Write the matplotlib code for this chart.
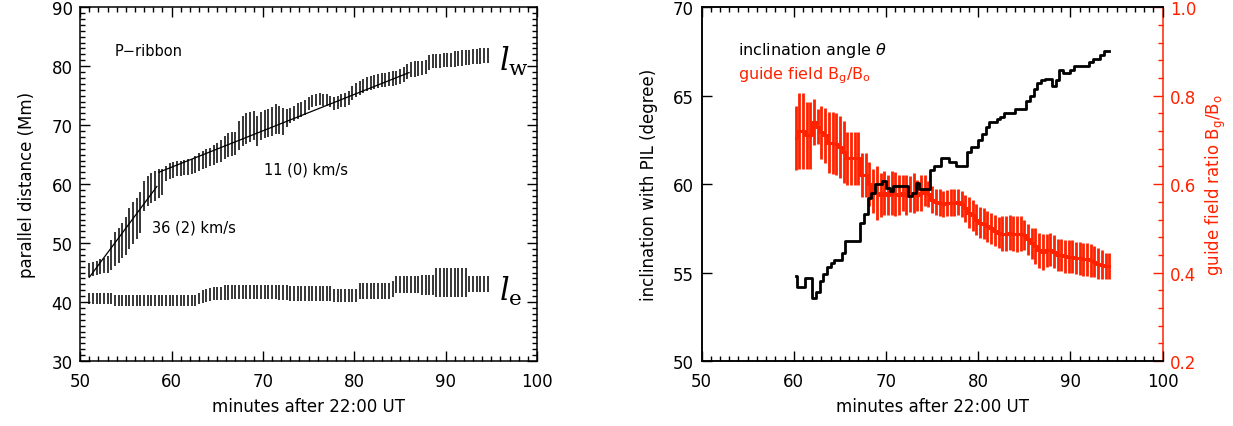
import numpy as np
import matplotlib
matplotlib.use("Agg")
from matplotlib import pyplot as plt
from matplotlib.ticker import MultipleLocator

# ---- left panel: parallel distance of the two ribbon ends (24 s cadence) ----
t_left = [51.0, 51.4, 51.8, 52.2, 52.6, 53.0, 53.4, 53.8, 54.2, 54.6,
          55.0, 55.4, 55.8, 56.2, 56.6, 57.0, 57.4, 57.8, 58.2, 58.6,
          59.0, 59.4, 59.8, 60.2, 60.6, 61.0, 61.4, 61.8, 62.2, 62.6,
          63.0, 63.4, 63.8, 64.2, 64.6, 65.0, 65.4, 65.8, 66.2, 66.6,
          67.0, 67.4, 67.8, 68.2, 68.6, 69.0, 69.4, 69.8, 70.2, 70.6,
          71.0, 71.4, 71.8, 72.2, 72.6, 73.0, 73.4, 73.8, 74.2, 74.6,
          75.0, 75.4, 75.8, 76.2, 76.6, 77.0, 77.4, 77.8, 78.2, 78.6,
          79.0, 79.4, 79.8, 80.2, 80.6, 81.0, 81.4, 81.8, 82.2, 82.6,
          83.0, 83.4, 83.8, 84.2, 84.6, 85.0, 85.4, 85.8, 86.2, 86.6,
          87.0, 87.4, 87.8, 88.2, 88.6, 89.0, 89.4, 89.8, 90.2, 90.6,
          91.0, 91.4, 91.8, 92.2, 92.6, 93.0, 93.4, 93.8, 94.2, 94.6]

lw_dist = [45.5, 45.6, 45.8, 46.0, 46.2, 46.4, 48.0, 49.0, 49.6, 50.4,
           51.2, 52.5, 53.4, 54.2, 55.2, 58.0, 58.8, 59.3, 59.7, 60.1,
           60.4, 61.8, 62.2, 62.4, 62.6, 62.7, 62.8, 62.9, 63.0, 63.3,
           63.8, 64.1, 64.4, 64.6, 65.0, 65.3, 65.6, 66.2, 66.6, 66.8,
           66.9, 68.2, 69.0, 69.4, 69.7, 69.9, 69.0, 69.8, 70.2, 70.4,
           70.6, 71.0, 70.9, 70.6, 71.2, 71.6, 72.0, 72.4, 72.7, 73.0,
           73.6, 74.1, 74.3, 74.4, 74.3, 74.2, 74.0, 73.7, 73.9, 74.2,
           74.3, 74.6, 75.5, 76.0, 76.3, 76.6, 76.9, 77.1, 77.3, 77.5,
           77.6, 77.7, 77.8, 77.9, 78.0, 78.2, 78.6, 79.1, 79.4, 79.5,
           79.6, 79.7, 79.9, 80.6, 80.8, 80.8, 80.9, 81.0, 81.0, 81.1,
           81.2, 81.3, 81.4, 81.5, 81.5, 81.6, 81.6, 81.7, 81.8, 81.8]

lw_err = [1.2, 1.2, 1.2, 1.3, 1.3, 1.4, 2.6, 2.9, 3.0, 3.0,
          3.2, 3.5, 3.5, 3.5, 3.5, 2.6, 2.5, 2.5, 2.5, 2.4,
          2.2, 1.3, 1.3, 1.3, 1.3, 1.3, 1.3, 1.3, 1.3, 1.4,
          1.5, 1.5, 1.6, 1.6, 1.7, 1.7, 1.8, 2.0, 2.0, 2.0,
          2.0, 2.5, 2.6, 2.6, 2.6, 2.5, 2.5, 2.4, 2.4, 2.4,
          2.4, 2.5, 2.4, 2.3, 1.5, 1.3, 1.3, 1.3, 1.3, 1.3,
          1.1, 1.0, 1.0, 1.0, 1.0, 1.0, 1.0, 1.1, 1.1, 1.1,
          1.2, 1.2, 1.2, 1.2, 1.2, 1.2, 1.2, 1.2, 1.2, 1.2,
          1.2, 1.2, 1.2, 1.2, 1.2, 1.3, 1.3, 1.3, 1.3, 1.3,
          1.2, 1.2, 1.2, 1.2, 1.2, 1.2, 1.2, 1.2, 1.2, 1.2,
          1.3, 1.3, 1.3, 1.3, 1.3, 1.3, 1.3, 1.3, 1.3, 1.3]

le_dist = [40.6, 40.6, 40.6, 40.6, 40.6, 40.6, 40.6, 40.3, 40.3, 40.3,
           40.3, 40.3, 40.3, 40.3, 40.3, 40.3, 40.3, 40.3, 40.3, 40.3,
           40.3, 40.3, 40.3, 40.3, 40.3, 40.3, 40.3, 40.3, 40.3, 40.3,
           40.6, 40.9, 41.1, 41.3, 41.4, 41.5, 41.5, 41.6, 41.6, 41.7,
           41.7, 41.7, 41.7, 41.7, 41.7, 41.7, 41.7, 41.7, 41.7, 41.7,
           41.7, 41.7, 41.6, 41.6, 41.6, 41.5, 41.5, 41.5, 41.5, 41.5,
           41.5, 41.5, 41.5, 41.5, 41.5, 41.5, 41.5, 41.2, 41.2, 41.2,
           41.2, 41.2, 41.2, 41.2, 41.9, 41.9, 41.9, 41.9, 41.9, 41.9,
           41.9, 41.9, 41.9, 42.2, 43.0, 43.0, 43.0, 43.0, 43.0, 43.0,
           43.0, 42.9, 42.9, 42.9, 42.9, 43.3, 43.3, 43.3, 43.3, 43.3,
           43.3, 43.3, 43.3, 43.3, 43.1, 43.1, 43.1, 43.1, 43.1, 43.1]

le_err = [0.9, 0.9, 0.9, 0.9, 0.9, 0.9, 0.9, 0.9, 0.9, 0.9,
          0.9, 0.9, 0.9, 0.9, 0.9, 0.9, 0.9, 0.9, 0.9, 0.9,
          0.9, 0.9, 0.9, 0.9, 0.9, 0.9, 0.9, 0.9, 0.9, 0.9,
          1.0, 1.1, 1.1, 1.1, 1.1, 1.1, 1.1, 1.25, 1.25, 1.25,
          1.25, 1.25, 1.25, 1.25, 1.25, 1.25, 1.25, 1.25, 1.25, 1.25,
          1.25, 1.25, 1.25, 1.25, 1.25, 1.25, 1.25, 1.25, 1.25, 1.25,
          1.25, 1.25, 1.25, 1.25, 1.25, 1.25, 1.25, 1.1, 1.1, 1.1,
          1.1, 1.1, 1.1, 1.1, 1.3, 1.3, 1.3, 1.3, 1.3, 1.3,
          1.3, 1.3, 1.3, 1.4, 1.5, 1.5, 1.5, 1.5, 1.5, 1.5,
          1.5, 1.65, 1.65, 1.65, 1.65, 2.4, 2.4, 2.4, 2.4, 2.4,
          2.4, 2.4, 2.4, 2.4, 1.4, 1.4, 1.4, 1.4, 1.4, 1.4]

# linear fits (end points)
fit_fast_t = [51.0, 58.4]
fit_fast_d = [44.2, 59.6]
fit_slow_t = [58.6, 86.0]
fit_slow_d = [62.0, 78.9]

# ---- right panel: inclination angle and guide field ----
t_right = [60.2, 60.6, 61.0, 61.4, 61.8, 62.2, 62.6, 63.0, 63.4, 63.8,
           64.2, 64.6, 65.0, 65.4, 65.8, 66.2, 66.6, 67.0, 67.4, 67.8,
           68.2, 68.6, 69.0, 69.4, 69.8, 70.2, 70.6, 71.0, 71.4, 71.8,
           72.2, 72.6, 73.0, 73.4, 73.8, 74.2, 74.6, 75.0, 75.4, 75.8,
           76.2, 76.6, 77.0, 77.4, 77.8, 78.2, 78.6, 79.0, 79.4, 79.8,
           80.2, 80.6, 81.0, 81.4, 81.8, 82.2, 82.6, 83.0, 83.4, 83.8,
           84.2, 84.6, 85.0, 85.4, 85.8, 86.2, 86.6, 87.0, 87.4, 87.8,
           88.2, 88.6, 89.0, 89.4, 89.8, 90.2, 90.6, 91.0, 91.4, 91.8,
           92.2, 92.6, 93.0, 93.4, 93.8, 94.2]

theta = [54.8, 54.2, 54.2, 54.7, 54.7, 53.55, 53.9, 54.5, 54.9, 55.3,
         55.55, 55.7, 55.7, 56.1, 56.8, 56.8, 56.8, 56.8, 57.8, 58.3,
         59.2, 59.5, 60.0, 60.0, 60.2, 59.8, 59.6, 59.9, 59.9, 59.9,
         59.9, 59.3, 59.5, 60.05, 59.7, 59.7, 59.7, 60.8, 61.0, 61.0,
         61.45, 61.45, 61.25, 61.25, 61.0, 61.0, 61.0, 61.8, 62.1, 62.1,
         62.5, 62.85, 63.2, 63.5, 63.5, 63.7, 63.8, 64.0, 64.0, 64.0,
         64.25, 64.25, 64.25, 64.7, 65.0, 65.4, 65.7, 65.9, 65.95, 65.95,
         65.55, 65.9, 66.45, 66.3, 66.3, 66.45, 66.7, 66.7, 66.7, 66.7,
         66.9, 67.05, 67.05, 67.3, 67.5, 67.5]

guide = [0.705, 0.72, 0.72, 0.71, 0.71, 0.74, 0.73, 0.717, 0.71, 0.694,
         0.692, 0.69, 0.684, 0.673, 0.658, 0.658, 0.658, 0.658, 0.62, 0.62,
         0.60, 0.585, 0.58, 0.575, 0.58, 0.575, 0.58, 0.577, 0.575, 0.58,
         0.575, 0.578, 0.58, 0.575, 0.58, 0.585, 0.578, 0.565, 0.56, 0.558,
         0.555, 0.557, 0.558, 0.558, 0.56, 0.555, 0.545, 0.535, 0.53, 0.52,
         0.513, 0.51, 0.505, 0.50, 0.495, 0.49, 0.488, 0.488, 0.49, 0.488,
         0.487, 0.488, 0.485, 0.475, 0.466, 0.46, 0.45, 0.447, 0.45, 0.452,
         0.447, 0.44, 0.44, 0.437, 0.436, 0.436, 0.433, 0.432, 0.43, 0.43,
         0.428, 0.425, 0.42, 0.418, 0.415, 0.415]

guide_err = [0.072, 0.085, 0.085, 0.075, 0.075, 0.052, 0.04, 0.06, 0.062, 0.07,
             0.07, 0.07, 0.07, 0.07, 0.06, 0.06, 0.06, 0.06, 0.05, 0.05,
             0.05, 0.05, 0.06, 0.05, 0.05, 0.045, 0.05, 0.05, 0.045, 0.04,
             0.045, 0.04, 0.045, 0.035, 0.04, 0.035, 0.03, 0.03, 0.03, 0.03,
             0.03, 0.03, 0.03, 0.03, 0.03, 0.03, 0.03, 0.035, 0.035, 0.035,
             0.035, 0.035, 0.035, 0.035, 0.035, 0.035, 0.04, 0.04, 0.04, 0.04,
             0.04, 0.04, 0.035, 0.035, 0.035, 0.04, 0.04, 0.04, 0.037, 0.037,
             0.037, 0.037, 0.037, 0.037, 0.037, 0.037, 0.037, 0.037, 0.037, 0.037,
             0.037, 0.035, 0.035, 0.032, 0.03, 0.03]

RED = '#ff2200'
plt.rcParams['font.family'] = ['DejaVu Sans']
plt.rcParams['font.size'] = 12

fig = plt.figure(figsize=(12.33, 4.27), dpi=100)
ax1 = fig.add_axes([0.065, 0.152, 0.3705, 0.829])
ax2 = fig.add_axes([0.569, 0.152, 0.374, 0.829])


def style_ticks(ax):
    ax.tick_params(which='both', direction='in', width=1.0)
    ax.tick_params(which='major', length=7)
    ax.tick_params(which='minor', length=3.5)
    ax.tick_params(axis='x', pad=8)
    ax.tick_params(axis='y', pad=5.5)
    for s in ax.spines.values():
        s.set_linewidth(1.1)


# left panel
ax1.errorbar(t_left, lw_dist, yerr=lw_err, fmt='none', ecolor='black', elinewidth=1.1)
ax1.errorbar(t_left, le_dist, yerr=le_err, fmt='none', ecolor='black', elinewidth=1.1)
ax1.plot(fit_fast_t, fit_fast_d, color='black', lw=0.9)
ax1.plot(fit_slow_t, fit_slow_d, color='black', lw=0.9)

ax1.text(53.8, 82.7, 'P\u2212ribbon', fontsize=10.5, va='center')
ax1.text(70.1, 62.6, '11 (0) km/s', fontsize=10.5, va='center')
ax1.text(57.9, 52.7, '36 (2) km/s', fontsize=10.5, va='center')
ax1.text(95.8, 81.0, r'$l_{\mathrm{w}}$', fontsize=22, va='center', math_fontfamily='dejavuserif')
ax1.text(95.8, 42.0, r'$l_{\mathrm{e}}$', fontsize=22, va='center', math_fontfamily='dejavuserif')

ax1.set_xlim(50, 100)
ax1.set_ylim(30, 90)
ax1.xaxis.set_major_locator(MultipleLocator(10))
ax1.xaxis.set_minor_locator(MultipleLocator(1))
ax1.yaxis.set_major_locator(MultipleLocator(10))
ax1.yaxis.set_minor_locator(MultipleLocator(1))
ax1.tick_params(which='both', top=True, right=True)
style_ticks(ax1)
ax1.set_xlabel('minutes after 22:00 UT', labelpad=5)
ax1.set_ylabel('parallel distance (Mm)', labelpad=11)

# right panel: red guide field on twin axis, black angle on top
ax2r = ax2.twinx()
ax2r.errorbar(t_right, guide, yerr=guide_err, fmt='none', ecolor=RED, elinewidth=2.0)
ax2r.plot(t_right, guide, drawstyle='steps-mid', color=RED, lw=2.2)
ax2r.set_ylim(0.2, 1.0)
ax2r.yaxis.set_major_locator(MultipleLocator(0.2))
ax2r.yaxis.set_minor_locator(MultipleLocator(0.04))
style_ticks(ax2r)
ax2r.tick_params(which='both', colors=RED)
ax2r.spines['right'].set_color(RED)
ax2r.set_ylabel(r'guide field ratio B$_{\mathrm{g}}$/B$_{\mathrm{o}}$', color=RED, labelpad=5)

ax2.set_zorder(ax2r.get_zorder() + 1)
ax2.patch.set_visible(False)
ax2.plot(t_right, theta, drawstyle='steps-mid', color='black', lw=2.0)
ax2.set_xlim(50, 100)
ax2.set_ylim(50, 70)
ax2.xaxis.set_major_locator(MultipleLocator(10))
ax2.xaxis.set_minor_locator(MultipleLocator(1))
ax2.yaxis.set_major_locator(MultipleLocator(5))
ax2.yaxis.set_minor_locator(MultipleLocator(5))
ax2.spines['right'].set_visible(False)
ax2.tick_params(which='both', top=True, right=False)
style_ticks(ax2)
ax2.set_xlabel('minutes after 22:00 UT', labelpad=5)
ax2.set_ylabel('inclination with PIL (degree)', labelpad=11)
ax2.text(0.08, 0.879, r'inclination angle $\theta$', transform=ax2.transAxes,
         fontsize=11.5, va='center')
ax2.text(0.08, 0.809, r'guide field B$_{\mathrm{g}}$/B$_{\mathrm{o}}$', transform=ax2.transAxes,
         fontsize=11.5, va='center', color=RED)

fig.savefig('out.png', dpi=100)
